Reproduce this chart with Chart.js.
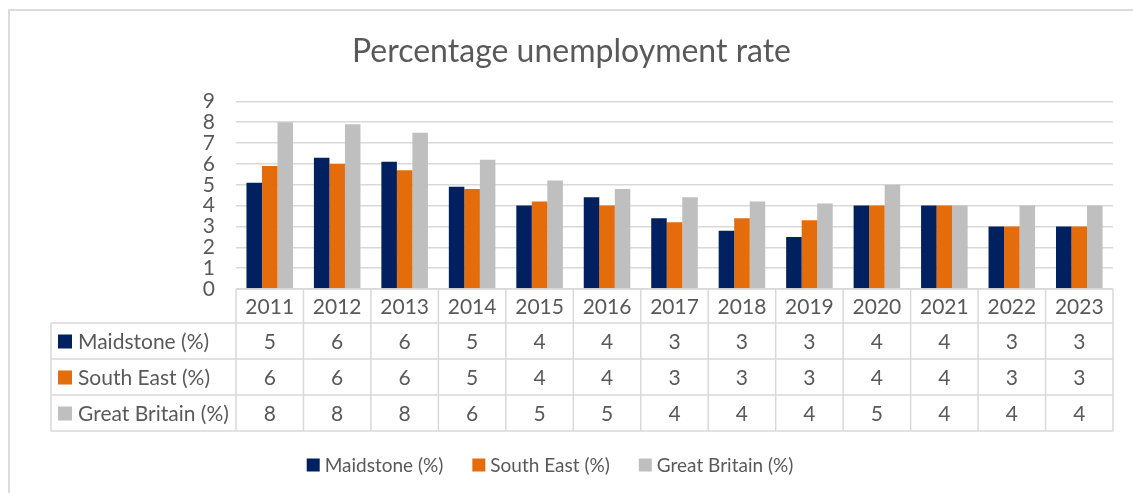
<!DOCTYPE html>
<html>
<head>
<meta charset="utf-8">
<title>Percentage unemployment rate</title>
<script src="https://cdn.jsdelivr.net/npm/chart.js@4.4.1/dist/chart.umd.min.js"></script>
<style>
    html, body { margin: 0; padding: 0; background: #fff; overflow: hidden; }
    #wrap { position: relative; width: 1133px; height: 493px; overflow: hidden; }
    #frame {
        position: absolute; left: 8px; top: 9px;
        width: 1200px; height: 600px;
        border: 2px solid #dcdcdc; box-sizing: border-box;
    }
    canvas { position: absolute; left: 0; top: 0; }
</style>
</head>
<body>
<div id="wrap">
    <div id="frame"></div>
    <canvas id="chart" width="1133" height="493"></canvas>
</div>
<script>
const years = ["2011", "2012", "2013", "2014", "2015", "2016", "2017", "2018", "2019", "2020", "2021", "2022", "2023"];
const maidstone = [5.1, 6.3, 6.1, 4.9, 4.0, 4.4, 3.4, 2.8, 2.5, 4.0, 4.0, 3.0, 3.0];
const southEast = [5.9, 6.0, 5.7, 4.8, 4.2, 4.0, 3.2, 3.4, 3.3, 4.0, 4.0, 3.0, 3.0];
const greatBritain = [8.0, 7.9, 7.5, 6.2, 5.2, 4.8, 4.4, 4.2, 4.1, 5.0, 4.0, 4.0, 4.0];
const seriesNames = ["Maidstone (%)", "South East (%)", "Great Britain (%)"];
const seriesColors = ["#002060", "#e46c0a", "#bfbfbf"];
const yMin = 0;
const yMax = 9;
const yStep = 1;

const FONT = "Lato, 'Open Sans', sans-serif";
const TEXT = "#595959";
const LINE = "#d9d9d9";

// data table under the plot
const HEADER_H = 34;
const ROW_H = 36;
const KEY_W = 185;
const TABLE_FONT = 21;
// legend row
const LEGEND_CX = 550;
const LEGEND_Y = 465;
const LEGEND_FONT = 19;
const BOX = 13;

const dataTable = {
    id: "dataTable",
    afterDraw(chart) {
        const { ctx, chartArea } = chart;
        const x = chart.scales.x;
        const sets = chart.data.datasets;
        const colW = x.width / years.length;
        const top = chartArea.bottom;
        const rowsTop = top + HEADER_H;
        const bottom = rowsTop + ROW_H * sets.length;
        const keyLeft = chartArea.left - KEY_W;

        ctx.save();
        ctx.strokeStyle = LINE;
        ctx.lineWidth = 1.5;
        ctx.beginPath();
        ctx.moveTo(x.left, top);
        ctx.lineTo(x.right, top);
        for (let r = 0; r <= sets.length; r++) {
            const y = rowsTop + r * ROW_H;
            ctx.moveTo(keyLeft, y);
            ctx.lineTo(x.right, y);
        }
        for (let i = 0; i <= years.length; i++) {
            const vx = i < years.length ? x.getPixelForValue(i) - colW / 2 : x.right;
            ctx.moveTo(vx, top);
            ctx.lineTo(vx, bottom);
        }
        ctx.moveTo(keyLeft, rowsTop);
        ctx.lineTo(keyLeft, bottom);
        ctx.stroke();

        ctx.font = `${TABLE_FONT}px ${FONT}`;
        ctx.fillStyle = TEXT;
        ctx.textBaseline = "middle";
        ctx.textAlign = "center";
        years.forEach((year, i) => {
            ctx.fillText(year, x.getPixelForValue(i), top + HEADER_H / 2 + 1);
        });

        sets.forEach((ds, r) => {
            const cy = rowsTop + r * ROW_H + ROW_H / 2;
            ctx.fillStyle = ds.backgroundColor;
            ctx.fillRect(keyLeft + 7, cy - BOX / 2, BOX + 1, BOX + 1);
            ctx.fillStyle = TEXT;
            ctx.textAlign = "left";
            ctx.fillText(ds.label, keyLeft + 27, cy + 1);
            ctx.textAlign = "center";
            ds.data.forEach((v, i) => {
                ctx.fillText(String(Math.round(v)), x.getPixelForValue(i), cy + 1);
            });
        });

        // legend
        ctx.font = `${LEGEND_FONT}px ${FONT}`;
        const widths = sets.map(ds => BOX + 5 + ctx.measureText(ds.label).width);
        const gap = 29;
        const total = widths.reduce((a, b) => a + b, 0) + gap * (sets.length - 1);
        let lx = LEGEND_CX - total / 2;
        ctx.textAlign = "left";
        sets.forEach((ds, k) => {
            ctx.fillStyle = ds.backgroundColor;
            ctx.fillRect(lx, LEGEND_Y - BOX / 2, BOX, BOX);
            ctx.fillStyle = TEXT;
            ctx.fillText(ds.label, lx + BOX + 5, LEGEND_Y + 1);
            lx += widths[k] + gap;
        });
        ctx.restore();
    }
};

const ctx = document.getElementById("chart").getContext("2d");
new Chart(ctx, {
    type: "bar",
    data: {
        labels: years,
        datasets: [maidstone, southEast, greatBritain].map((values, k) => ({
            label: seriesNames[k],
            data: values,
            backgroundColor: seriesColors[k],
            borderWidth: 0,
            categoryPercentage: 0.69,
            barPercentage: 1.0,
        })),
    },
    options: {
        responsive: false,
        animation: false,
        devicePixelRatio: 1,
        layout: {
            padding: { left: 30, right: 20, top: 10, bottom: 0 },
        },
        plugins: {
            legend: { display: false },
            tooltip: { enabled: false },
            title: {
                display: true,
                text: "Percentage unemployment rate",
                color: TEXT,
                font: { family: FONT, size: 32, weight: "normal", lineHeight: 1.2 },
                padding: { top: 22, bottom: 31 },
            },
        },
        scales: {
            x: {
                grid: { display: false },
                border: { display: false },
                ticks: { display: false },
                afterFit: (scale) => { scale.height = 204; },
            },
            y: {
                min: yMin,
                max: yMax,
                grid: { color: LINE, lineWidth: 1.5, drawTicks: false },
                border: { display: false },
                ticks: {
                    stepSize: yStep,
                    autoSkip: false,
                    color: TEXT,
                    padding: 21,
                    font: { family: FONT, size: 21 },
                },
                afterFit: (scale) => { scale.width = 206; },
            },
        },
    },
    plugins: [dataTable],
});
</script>
</body>
</html>
